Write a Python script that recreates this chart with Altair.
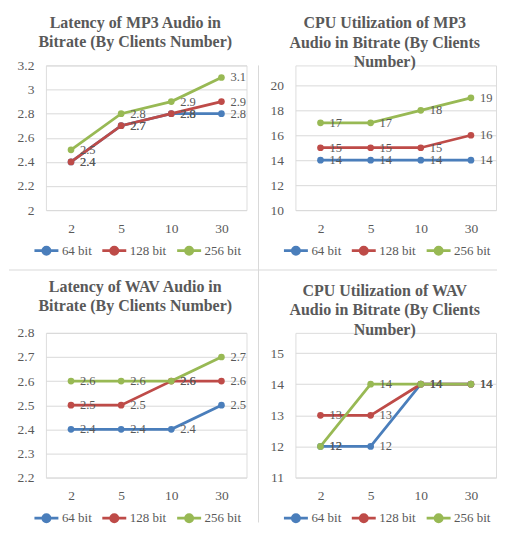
import altair as alt
import pandas as pd

FONT = "Liberation Serif"
GRAY = "#595959"
GRID = "#d9d9d9"

clients = ["2", "5", "10", "30"]
series = ["64 bit", "128 bit", "256 bit"]
colors = ["#4A7EBB", "#BE4B48", "#98B954"]

mp3_latency = {
    "64 bit": [2.4, 2.7, 2.8, 2.8],
    "128 bit": [2.4, 2.7, 2.8, 2.9],
    "256 bit": [2.5, 2.8, 2.9, 3.1],
}
mp3_cpu = {
    "64 bit": [14, 14, 14, 14],
    "128 bit": [15, 15, 15, 16],
    "256 bit": [17, 17, 18, 19],
}
wav_latency = {
    "64 bit": [2.4, 2.4, 2.4, 2.5],
    "128 bit": [2.5, 2.5, 2.6, 2.6],
    "256 bit": [2.6, 2.6, 2.6, 2.7],
}
wav_cpu = {
    "64 bit": [12, 12, 14, 14],
    "128 bit": [13, 13, 14, 14],
    "256 bit": [12, 14, 14, 14],
}

titles = [
    ["Latency of MP3 Audio in", "Bitrate (By Clients Number)"],
    ["CPU Utilization of MP3", "Audio in Bitrate (By Clients", "Number)"],
    ["Latency of WAV Audio in", "Bitrate (By Clients Number)"],
    ["CPU Utilization of WAV", "Audio in Bitrate (By Clients", "Number)"],
]
y_ticks = [
    [2, 2.2, 2.4, 2.6, 2.8, 3, 3.2],
    [10, 12, 14, 16, 18, 20],
    [2.2, 2.3, 2.4, 2.5, 2.6, 2.7, 2.8],
    [11, 12, 13, 14, 15],
]
# upper end of each value axis (room above the top grid line for 3-line titles)
y_max = [3.2, 21.6, 2.8, 15.65]

W = 201
H = 145
LEGEND_SYMBOL = "M-1,0L1,0M0.3,0A0.3,0.3 0 1,1 -0.3,0A0.3,0.3 0 1,1 0.3,0Z"


def to_df(d):
    rows = []
    for i, s in enumerate(series):
        for c, v in zip(clients, d[s]):
            rows.append({"clients": c, "series": s, "order": i, "value": v})
    return pd.DataFrame(rows)


def separators(vert=None, horiz=None):
    layers = []
    if vert is not None:
        x, y1, y2 = vert
        layers.append(
            alt.Chart(pd.DataFrame({"k": [0]})).mark_rule(color=GRID, strokeWidth=1)
            .encode(x=alt.value(x), y=alt.value(y1), y2=alt.value(y2))
        )
    if horiz is not None:
        y, x1, x2 = horiz
        layers.append(
            alt.Chart(pd.DataFrame({"k": [0]})).mark_rule(color=GRID, strokeWidth=1)
            .encode(y=alt.value(y), x=alt.value(x1), x2=alt.value(x2))
        )
    return layers


def panel(title, d, ticks, ymax, fmt, title_offset, extra):
    df = to_df(d)
    base = alt.Chart(df).encode(
        x=alt.X(
            "clients:N",
            sort=clients,
            scale=alt.Scale(type="point", padding=0.5),
            axis=alt.Axis(
                title=None, labelAngle=0, ticks=False, domain=False, grid=False,
                labelPadding=11, labelFontSize=13.5, labelColor=GRAY, labelFont=FONT,
            ),
        ),
        y=alt.Y(
            "value:Q",
            scale=alt.Scale(domain=[ticks[0], ymax], nice=False, zero=False),
            axis=alt.Axis(
                title=None, values=ticks, format=fmt, ticks=False, domain=False,
                gridColor=GRID, gridWidth=1, labelPadding=12, labelFontSize=13.5,
                labelColor=GRAY, labelFont=FONT,
            ),
        ),
        color=alt.Color(
            "series:N",
            sort=series,
            scale=alt.Scale(domain=series, range=colors),
            legend=alt.Legend(
                title=None, orient="none", direction="horizontal",
                legendX=-13, legendY=H + 27, padding=0,
                symbolType=LEGEND_SYMBOL, symbolSize=576, symbolStrokeWidth=2.75,
                labelFontSize=13, labelColor=GRAY, labelFont=FONT,
                columnPadding=5, labelOffset=2,
            ),
        ),
    )
    line = base.mark_line(strokeWidth=2.75)
    pts = base.mark_circle(size=45, opacity=1)
    labels = base.mark_text(
        align="left", baseline="middle", dx=9, fontSize=12.5, font=FONT
    ).encode(text=alt.Text("value:Q", format="~g"), color=alt.value(GRAY))
    return alt.layer(*extra, line, pts, labels).properties(
        width=W,
        height=H,
        title=alt.Title(
            title, font=FONT, fontSize=16, fontWeight="bold", color=GRAY,
            lineHeight=19.5, anchor="middle", offset=title_offset, dx=-11,
            frame="group",
        ),
    )


p1 = panel(titles[0], mp3_latency, y_ticks[0], y_max[0], ".1~f", 8,
           separators(vert=(213, 0, 268), horiz=(205, -37, 213)))
p2 = panel(titles[1], mp3_cpu, y_ticks[1], y_max[1], "d", -5,
           separators(horiz=(205, -37, 202)))
p3 = panel(titles[2], wav_latency, y_ticks[2], y_max[2], ".1~f", -45,
           separators(vert=(213, -63, 190)))
p4 = panel(titles[3], wav_cpu, y_ticks[3], y_max[3], "d", -5, [])

chart = (
    alt.concat(p1, p2, p3, p4, columns=2, spacing={"row": 123, "column": 49}, bounds="flush")
    .resolve_scale(color="independent")
    .properties(padding={"top": 6, "left": 0, "right": 0, "bottom": 0})
    .configure_view(stroke=None)
    .configure(background="white")
)

chart.save("out.html", embed_options={"renderer": "svg", "actions": False})
